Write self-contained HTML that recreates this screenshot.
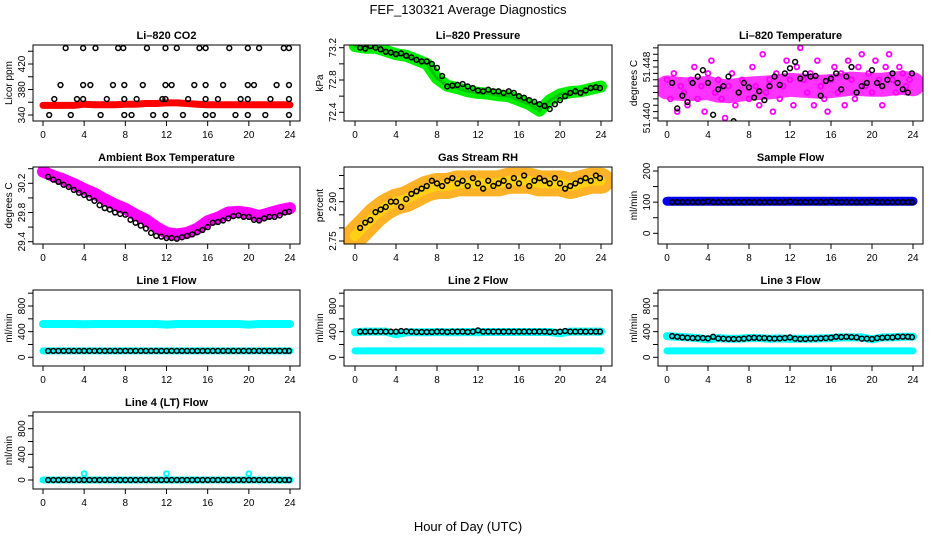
<!DOCTYPE html>
<html><head><meta charset="utf-8"><style>
body{margin:0;background:#fff;}
svg{display:block;font-family:"Liberation Sans",sans-serif;}
</style></head><body>
<svg id="chart" width="936" height="540" viewBox="0 0 936 540" xmlns="http://www.w3.org/2000/svg">
<rect x="0" y="0" width="936" height="540" fill="#fff"/>
<text x="468" y="14" text-anchor="middle" font-size="13">FEF_130321  Average Diagnostics</text>
<text x="468" y="531" text-anchor="middle" font-size="13">Hour of Day (UTC)</text>
</svg>
<script>
// ---- data ----
const hours = [0,1,2,3,4,5,6,7,8,9,10,11,12,13,14,15,16,17,18,19,20,21,22,23,24];
const halfHours = [0.5,1,1.5,2,2.5,3,3.5,4,4.5,5,5.5,6,6.5,7,7.5,8,8.5,9,9.5,10,10.5,11,11.5,12,12.5,13,13.5,14,14.5,15,15.5,16,16.5,17,17.5,18,18.5,19,19.5,20,20.5,21,21.5,22,22.5,23,23.5,23.9];
const xTicks = [0,4,8,12,16,20,24];

const co2Band = [355,355,355,355,357,356,356,356,357,357,358,358,359,359,358,357,356,356,356,356,356,356,356,356,356];
const co2PtT = [2.2,3.9,5.1,7.3,7.8,10.1,11.9,13,15.2,15.8,18.1,19.9,21,23.4,23.9, 1.7,3.9,4.6,6.8,7.9,9.7,11.9,12.5,14.7,15.8,17.5,19.9,20.5,22.7,23.9, 1.1,3.3,3.9,6.2,7.9,9.1,11.6,11.9,14.1,15.8,17,19.2,19.9,22.1,23.9, 0.6,2.7,5.6,7.9,8.6,10.7,11.9,13.6,15.8,16.5,18.7,19.9,21.6,23.9];
const co2PtV = [445,445,445,445,445,445,445,445,445,445,445,445,445,445,445, 387,387,387,387,387,387,387,387,387,387,387,387,387,387,387, 365,365,365,365,365,365,365,365,365,365,365,365,365,365,365, 340,340,340,340,340,340,340,340,340,340,340,340,340,340];

const presBand = [73.22,73.2,73.2,73.16,73.12,73.1,73.05,73.0,72.82,72.73,72.7,72.66,72.64,72.63,72.61,72.6,72.55,72.5,72.42,72.55,72.62,72.65,72.66,72.69,72.72];
const presPts = [73.2,73.19,73.22,73.2,73.18,73.15,73.14,73.12,73.13,73.1,73.08,73.05,73.03,73.03,73.0,72.95,72.85,72.72,72.73,72.74,72.75,72.72,72.7,72.67,72.66,72.68,72.66,72.66,72.64,72.66,72.64,72.6,72.58,72.55,72.53,72.5,72.48,72.44,72.5,72.55,72.6,72.64,72.66,72.64,72.67,72.7,72.71,72.7];

const tempBand = [51.4448,51.4446,51.4445,51.4446,51.4447,51.4443,51.4442,51.4444,51.4446,51.4447,51.4448,51.4450,51.4452,51.4451,51.4450,51.4449,51.4450,51.4452,51.4454,51.4453,51.4452,51.4452,51.4454,51.4455,51.4453];
const tempCloud = [51.446,51.443,51.447,51.441,51.445,51.444,51.442,51.446,51.448,51.443,51.445,51.441,51.447,51.449,51.444,51.446,51.443,51.440,51.445,51.447,51.442,51.444,51.446,51.439,51.443,51.448,51.445,51.442,51.450,51.444,51.446,51.441,51.447,51.443,51.445,51.449,51.446,51.442,51.448,51.451,51.446,51.444,51.447,51.442,51.449,51.445,51.443,51.441,51.446,51.448,51.444,51.447,51.442,51.449,51.446,51.443,51.448,51.450,51.445,51.447,51.444,51.449,51.446,51.442,51.448,51.450,51.446,51.444,51.448,51.447,51.445,51.446];
const tempPts = [51.4455,51.4415,51.4435,51.4425,51.4455,51.4465,51.4475,51.4455,51.4405,51.4445,51.4450,51.4465,51.4395,51.4440,51.4455,51.4448,51.4432,51.4442,51.4428,51.4450,51.4465,51.4452,51.4470,51.4478,51.4488,51.4462,51.4470,51.4465,51.4466,51.4435,51.4458,51.4462,51.4470,51.4445,51.4465,51.4480,51.4440,51.4450,51.4455,51.4475,51.4455,51.4450,51.4460,51.4470,51.4455,51.4445,51.4440,51.4470];

const ambBand = [30.36,30.3,30.25,30.19,30.12,30.06,29.98,29.91,29.85,29.77,29.7,29.6,29.52,29.5,29.52,29.58,29.68,29.73,29.8,29.81,29.79,29.75,29.79,29.83,29.86];
const ambPts = [30.29,30.25,30.22,30.18,30.15,30.11,30.07,30.04,30.0,29.96,29.9,29.86,29.84,29.8,29.78,29.77,29.7,29.66,29.62,29.58,29.52,29.48,29.47,29.45,29.45,29.44,29.46,29.48,29.5,29.53,29.56,29.6,29.66,29.67,29.69,29.72,29.75,29.76,29.74,29.74,29.7,29.69,29.72,29.74,29.74,29.76,29.8,29.81];

const rhBand = [2.77,2.81,2.85,2.88,2.9,2.91,2.93,2.95,2.96,2.96,2.97,2.97,2.97,2.97,2.97,2.98,2.98,2.98,2.97,2.97,2.97,2.96,2.97,2.98,2.98];
const rhPts = [2.8,2.82,2.83,2.86,2.87,2.88,2.9,2.9,2.88,2.91,2.93,2.94,2.95,2.96,2.98,2.97,2.96,2.98,2.99,2.97,2.98,2.96,2.99,2.97,2.95,2.98,2.96,2.97,2.98,2.96,2.99,2.97,3.0,2.96,2.98,2.99,2.98,2.97,2.99,2.97,2.95,2.96,2.97,2.98,2.99,2.98,3.0,2.99];

const sampleBand = [103,103,103,103,103,103,103,103,103,103,103,103,103,103,103,103,103,103,103,103,103,103,103,103,103];
const samplePts = [100,100,100,100,100,100,100,102,100,100,100,100,100,100,100,100,100,100,100,100,100,100,100,102,100,100,100,100,100,100,100,102,100,100,100,100,100,100,100,102,100,100,100,100,100,100,100,100];

const line1Band = [520,520,520,520,515,520,520,520,520,520,520,520,510,520,520,520,520,520,520,520,510,520,520,520,520];
const line1Low = [100,100,100,100,100,100,100,100,100,100,100,100,100,100,100,100,100,100,100,100,100,100,100,100,100];
const line1Pts = [100,100,100,100,100,100,100,100,100,100,100,100,100,100,100,100,100,100,100,100,100,100,100,100,100,100,100,100,100,100,100,100,100,100,100,100,100,100,100,100,100,100,100,100,100,100,100,100];

const line2Band = [390,400,400,400,360,390,390,390,395,390,390,395,390,395,395,395,395,395,395,395,375,400,400,400,400];
const line2Low = [100,100,100,100,100,100,100,100,100,100,100,100,100,100,100,100,100,100,100,100,100,100,100,100,100];
const line2Pts = [400,400,400,400,400,400,400,400,410,405,400,395,395,395,395,400,400,395,400,400,400,395,400,420,400,400,400,400,400,400,400,400,400,400,400,400,400,395,395,400,410,400,400,400,400,400,400,400];

const line3Band = [330,320,310,300,280,300,290,290,300,300,290,295,290,290,290,295,300,310,310,310,280,310,310,320,320];
const line3Low = [100,100,100,100,100,100,100,100,100,100,100,100,100,100,100,100,100,100,100,100,100,100,100,100,100];
const line3Pts = [330,320,310,305,300,300,300,295,320,295,290,285,285,285,290,300,305,300,300,295,290,295,300,310,290,285,285,290,290,295,300,305,320,315,320,315,310,290,290,285,300,305,310,310,320,320,320,315];

const line4Band = [0,0,0,0,0,0,0,0,0,0,0,0,0,0,0,0,0,0,0,0,0,0,0,0,0];
const line4SpikeT = [4,12,20];
const line4SpikeV = [100,100,100];
const line4Pts = [0,0,0,0,0,0,0,0,0,0,0,0,0,0,0,0,0,0,0,0,0,0,0,0,0,0,0,0,0,0,0,0,0,0,0,0,0,0,0,0,0,0,0,0,0,0,0,0];

// ---- layout ----
const NS = "http://www.w3.org/2000/svg";
const svg = document.getElementById("chart");
const cols = [{l:33,r:300,x0:43,x24:290},{l:344,r:612,x0:355,x24:601},{l:658,r:923,x0:667,x24:913}];
const rows = [{t:45,b:121},{t:167,b:244},{t:290,b:366},{t:412,b:489}];

function mk(tag, attrs, parent){
  const e = document.createElementNS(NS, tag);
  for (const k in attrs) e.setAttribute(k, attrs[k]);
  (parent||svg).appendChild(e);
  return e;
}

function panel(cfg){
  const c = cols[cfg.col], r = rows[cfg.row];
  const g = mk("g", {});
  
  
  const xs = t => c.x0 + (t/24)*(c.x24-c.x0);
  const ys = v => cfg.y1 + (v-cfg.v1)*(cfg.y2-cfg.y1)/(cfg.v2-cfg.v1);
  const tt = mk("text", {x:(c.l+c.r)/2, y:r.t-6, "text-anchor":"middle", "font-size":"11", "font-weight":"bold"}, g);
  tt.textContent = cfg.title;
  
  
  const yl = mk("text", {x:0, y:0, "text-anchor":"middle", "font-size":"10", transform:`translate(${c.l-21},${(r.t+r.b)/2}) rotate(-90)`}, g);
  yl.textContent = cfg.ylabel;
  
  
  const clip = "clip-" + cfg.name;
  const cp = mk("clipPath", {id:clip}, g);
  mk("rect", {x:c.l, y:r.t, width:c.r-c.l, height:r.b-r.t}, cp);
  const dg = mk("g", {"clip-path":`url(#${clip})`}, g);
  (cfg.bands||[]).forEach(b => {
    const pts = hours.map((h,i)=>xs(h).toFixed(1)+","+ys(b.vals[i]).toFixed(1)).join(" ");
    const pl = mk("polyline", {points:pts, fill:"none", stroke:b.color, "stroke-width":b.w, "stroke-linecap":"round", "stroke-linejoin":"round", opacity:b.op||1}, dg);
    
    
  });
  (cfg.scatter||[]).forEach(s => {
    s.vals.forEach((v,i) => {
      const ci = mk("circle", {cx:xs(s.t[i]), cy:ys(v), r:s.r||2.4, fill:"none", stroke:s.color, "stroke-width":s.sw||1.5}, dg);
      
      
    });
  });
  const bx = mk("rect", {x:c.l, y:r.t, width:c.r-c.l, height:r.b-r.t, fill:"none", stroke:"#000", "stroke-width":1}, g);
  
  
  const xa = mk("g", {}, g);
  
  
  mk("line", {x1:xs(0), x2:xs(24), y1:r.b, y2:r.b, stroke:"#000"}, xa);
  xTicks.forEach(t => {
    mk("line", {x1:xs(t), x2:xs(t), y1:r.b, y2:r.b+5, stroke:"#000"}, xa);
    const lt = mk("text", {x:xs(t), y:r.b+17, "text-anchor":"middle", "font-size":"10"}, xa);
    lt.textContent = t;
  });
  const ya = mk("g", {}, g);
  
  
  const tv = [];
  for (let k=0;;k++){ const v = cfg.tickStart + k*cfg.tickStep; if (v > cfg.tickEnd + 1e-9) break; tv.push(v); }
  const inside = tv.filter(v => ys(v) >= r.t-0.5 && ys(v) <= r.b+0.5);
  if (inside.length) mk("line", {x1:c.l, x2:c.l, y1:ys(inside[0]), y2:ys(inside[inside.length-1]), stroke:"#000"}, ya);
  inside.forEach(v => {
    mk("line", {x1:c.l-5, x2:c.l, y1:ys(v), y2:ys(v), stroke:"#000"}, ya);
  });
  cfg.labels.forEach(v => {
    const lt = mk("text", {x:0, y:0, "text-anchor":"middle", "font-size":"10", transform:`translate(${c.l-8},${ys(v)}) rotate(-90)`}, ya);
    lt.textContent = cfg.fmt ? cfg.fmt(v) : String(v);
  });
}

const fmt1 = v => v.toFixed(1), fmt2 = v => v.toFixed(2), fmt3 = v => v.toFixed(3);
const flowY3 = {v1:0, y1:357.3, v2:800, y2:306};
const flowY4 = {v1:0, y1:480, v2:800, y2:428.7};

panel({name:"co2-panel", title:"Li\u2013820 CO2", ylabel:"Licor ppm", col:0, row:0, v1:340, y1:115, v2:420, y2:64,
  tickStart:340, tickEnd:440, tickStep:20, labels:[340,380,420],
  bands:[{vals:co2Band, color:"#ff0000", w:7}],
  scatter:[{t:co2PtT, vals:co2PtV, color:"#000"}]});
panel({name:"pressure-panel", title:"Li\u2013820 Pressure", ylabel:"kPa", col:1, row:0, v1:72.4, y1:112.3, v2:73.2, y2:47.7,
  tickStart:72.4, tickEnd:73.2, tickStep:0.2, labels:[72.4,72.8,73.2], fmt:fmt1,
  bands:[{vals:presBand, color:"#00ee00", w:12},{vals:presBand, color:"#009900", w:3, op:0.5}],
  scatter:[{t:halfHours, vals:presPts, color:"#000"}]});
panel({name:"licor-temperature-panel", title:"Li\u2013820 Temperature", ylabel:"degrees C", col:2, row:0, v1:51.440, y1:118, v2:51.448, y2:67,
  tickStart:51.440, tickEnd:51.452, tickStep:0.001, labels:[51.440,51.448], fmt:fmt3,
  bands:[{vals:tempBand, color:"#ff00ff", w:24, op:0.8}],
  scatter:[{t:tempCloud.map((v,i)=>i/3), vals:tempCloud, color:"#ff00ff", sw:1.8},{t:halfHours, vals:tempPts, color:"#000"}]});
panel({name:"ambient-temperature-panel", title:"Ambient Box Temperature", ylabel:"degrees C", col:0, row:1, v1:29.4, y1:241.7, v2:30.2, y2:183.3,
  tickStart:29.4, tickEnd:30.4, tickStep:0.2, labels:[29.4,29.8,30.2], fmt:fmt1,
  bands:[{vals:ambBand, color:"#ff00ff", w:12}],
  scatter:[{t:halfHours, vals:ambPts, color:"#000"}]});
panel({name:"gas-stream-rh-panel", title:"Gas Stream RH", ylabel:"percent", col:1, row:1, v1:2.75, y1:241, v2:2.90, y2:201.7,
  tickStart:2.75, tickEnd:3.05, tickStep:0.05, labels:[2.75,2.90], fmt:fmt2,
  bands:[{vals:rhBand, color:"#ffa500", w:26, op:0.85},{vals:rhBand, color:"#ffee00", w:10, op:0.5}],
  scatter:[{t:halfHours, vals:rhPts, color:"#000"}]});
panel({name:"sample-flow-panel", title:"Sample Flow", ylabel:"ml/min", col:2, row:1, v1:0, y1:233.3, v2:200, y2:171,
  tickStart:0, tickEnd:200, tickStep:50, labels:[0,100,200],
  bands:[{vals:sampleBand, color:"#0000ee", w:9}],
  scatter:[{t:halfHours, vals:samplePts, color:"#000"}]});
panel(Object.assign({name:"line1-flow-panel", title:"Line 1 Flow", ylabel:"ml/min", col:0, row:2,
  tickStart:0, tickEnd:1000, tickStep:200, labels:[0,400,800],
  bands:[{vals:line1Band, color:"#00ffff", w:8},{vals:line1Low, color:"#00ffff", w:7}],
  scatter:[{t:halfHours, vals:line1Pts, color:"#000"}]}, flowY3));
panel(Object.assign({name:"line2-flow-panel", title:"Line 2 Flow", ylabel:"ml/min", col:1, row:2,
  tickStart:0, tickEnd:1000, tickStep:200, labels:[0,400,800],
  bands:[{vals:line2Band, color:"#00ffff", w:8},{vals:line2Low, color:"#00ffff", w:7}],
  scatter:[{t:halfHours, vals:line2Pts, color:"#000"}]}, flowY3));
panel(Object.assign({name:"line3-flow-panel", title:"Line 3 Flow", ylabel:"ml/min", col:2, row:2,
  tickStart:0, tickEnd:1000, tickStep:200, labels:[0,400,800],
  bands:[{vals:line3Band, color:"#00ffff", w:8},{vals:line3Low, color:"#00ffff", w:7}],
  scatter:[{t:halfHours, vals:line3Pts, color:"#000"}]}, flowY3));
panel(Object.assign({name:"line4-flow-panel", title:"Line 4 (LT) Flow", ylabel:"ml/min", col:0, row:3,
  tickStart:0, tickEnd:1000, tickStep:200, labels:[0,400,800],
  bands:[{vals:line4Band, color:"#00ffff", w:7}],
  scatter:[{t:line4SpikeT, vals:line4SpikeV, color:"#00ffff", sw:2},{t:halfHours, vals:line4Pts, color:"#000"}]}, flowY4));
</script>
</body></html>
